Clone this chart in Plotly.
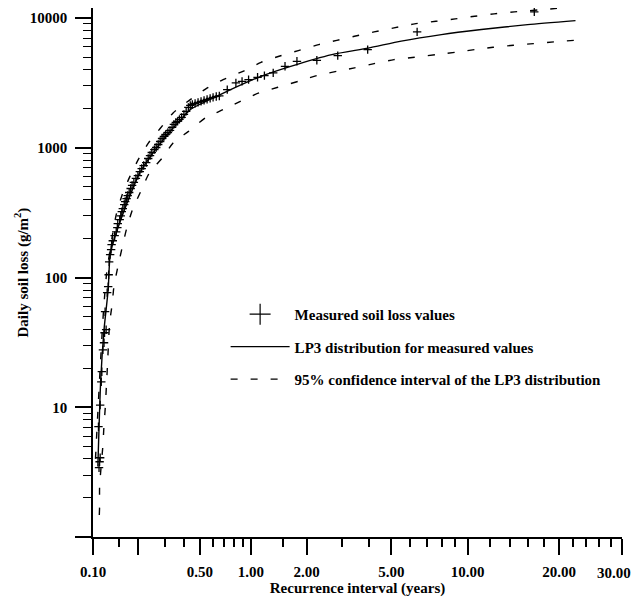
import numpy as np
import plotly.graph_objects as go

# ---------------- data ----------------
# Measured soil loss values: recurrence interval (years), daily soil loss (g/m2)
meas_T = [0.110, 0.111, 0.112, 0.109, 0.112, 0.114, 0.115, 0.117, 0.119, 0.120,
          0.123, 0.121, 0.125, 0.127, 0.128, 0.129, 0.131, 0.133, 0.134, 0.1365,
          0.1405, 0.144, 0.1465, 0.1475, 0.152, 0.1545, 0.157, 0.1595, 0.163, 0.1655,
          0.169, 0.172, 0.176, 0.180, 0.184, 0.189, 0.195, 0.201, 0.207, 0.213,
          0.2195, 0.228, 0.235, 0.2415, 0.248, 0.2575, 0.265, 0.273, 0.281, 0.289,
          0.297, 0.305, 0.315, 0.325, 0.335, 0.344, 0.354, 0.363, 0.373, 0.385,
          0.398, 0.411, 0.424, 0.436, 0.449, 0.467, 0.487, 0.508, 0.530, 0.553,
          0.577, 0.601, 0.628, 0.655, 0.73, 0.82, 0.89, 0.97, 1.09, 1.19,
          1.33, 1.54, 1.78, 2.25, 2.85, 3.93, 6.4, 16.8]
meas_v = [3.42, 3.80, 4.08, 7.08, 10.4, 15.7, 18.8, 27.7, 31.4, 37.5,
          39.6, 54.5, 76.4, 85, 105, 132, 150, 164, 179, 192,
          210, 225, 242, 260, 279, 299, 322, 340, 365, 385,
          406, 428, 452, 485, 512, 540, 580, 610, 655, 691,
          729, 769, 826, 871, 919, 968, 1004, 1059, 1117, 1178,
          1222, 1265, 1311, 1360, 1433, 1513, 1567, 1596, 1654, 1714,
          1807, 1906, 2046, 2120, 2158, 2198, 2235, 2276, 2317, 2358,
          2400, 2443, 2486, 2507, 2805, 3161, 3250, 3350, 3490, 3597,
          3773, 4243, 4636, 4720, 5130, 5705, 7815, 11140]

# LP3 distribution fitted to the measured values
lp3_T = [0.108, 0.113, 0.119, 0.127, 0.1315, 0.152, 0.177, 0.207, 0.262, 0.333,
         0.373, 0.436, 0.663, 1.14, 1.65, 2.67, 3.95, 5.5, 7.98, 11.2, 16.0, 22.35]
lp3_v = [3.5, 16.3, 39.6, 80.5, 155, 264, 420, 643, 968, 1380,
         1598, 1967, 2567, 3553, 4243, 5223, 5861, 6637, 7447, 8142, 8895, 9550]

# 95% confidence interval, upper bound
up_T = [0.104, 0.112, 0.118, 0.124, 0.136, 0.144, 0.158, 0.178, 0.202, 0.236,
        0.28, 0.34, 0.436, 0.555, 0.69, 0.9, 1.14, 1.43, 1.81, 2.3,
        2.82, 3.42, 4.2, 5.13, 6.25, 7.6, 9.0, 10.6, 12.4, 14.5, 19.4, 22.3]
up_v = [4.0, 20, 55, 108, 214, 305, 435, 602, 809, 1089,
        1400, 1854, 2349, 2891, 3350, 3882, 4552, 5070, 5607, 6237,
        6730, 7227, 7815, 8390, 9015, 9435, 9840, 10310, 10760, 11140, 11815, 12310]

# 95% confidence interval, lower bound
lo_T = [0.1105, 0.111, 0.111, 0.117, 0.119, 0.1215, 0.1235, 0.1255, 0.130, 0.135,
        0.139, 0.148, 0.169, 0.185, 0.21, 0.239, 0.29, 0.34, 0.425, 0.54,
        0.69, 0.87, 1.11, 1.41, 1.81, 2.25, 2.82, 3.42, 4.2, 5.13,
        6.25, 7.6, 9.0, 10.6, 12.3, 14.4, 16.7, 19.3, 22.2]
lo_v = [1.48, 1.72, 2.45, 5.14, 7.33, 10.1, 14.5, 20.6, 44.8, 61.7,
        85.4, 122, 237, 333, 461, 639, 834, 1089, 1337, 1698,
        1967, 2279, 2646, 2924, 3250, 3597, 3882, 4124, 4450, 4778,
        4979, 5222, 5440, 5705, 5943, 6160, 6347, 6542, 6730]

# axis ticks
x_major = [0.1, 0.2, 0.5, 1, 2, 5, 10, 20, 30]
x_major_text = ["0.10", " ", "0.50", "1.00", "2.00", "5.00", "10.00", "20.00", " "]
x_last_label = "30.00"   # drawn just inside the page edge
x_minor = [0.15, 0.3, 0.4, 0.6, 0.7, 0.8, 0.9, 1.5, 3, 4, 6, 7, 8, 9,
           12, 14, 16, 18, 22, 24, 26, 28]
y_major = [1, 10, 100, 1000, 10000]
y_major_text = [" ", "10", "100", "1000", "10000"]
y_minor = [m * d for d in (1, 10, 100, 1000) for m in range(2, 10)]

# ---------------- recurrence-interval probability scale ----------------
R = 0.70


def scale(T):
    T = np.asarray(T, dtype=float)
    return np.log(T) + R * np.sqrt(T)


FONT = "Liberation Serif, Times New Roman, serif"
DASH = "7px,13px"

fig = go.Figure()

fig.add_trace(go.Scatter(
    x=scale(meas_T), y=meas_v, mode="markers", name="Measured soil loss values",
    marker=dict(symbol="cross-thin", size=6, line=dict(width=1.3, color="black"), color="black"),
    legendgroup="a", showlegend=False))
# legend entry for the measured values (larger symbol, no data)
fig.add_trace(go.Scatter(
    x=[None], y=[None], mode="markers", name="Measured soil loss values",
    marker=dict(symbol="cross-thin", size=15, line=dict(width=1.2, color="black"), color="black"),
    legendgroup="a", showlegend=True))
fig.add_trace(go.Scatter(
    x=scale(lp3_T), y=lp3_v, mode="lines", name="LP3 distribution for measured values",
    line=dict(color="black", width=1.4, shape="spline", smoothing=0.6),
    legendgroup="b"))
fig.add_trace(go.Scatter(
    x=scale(up_T), y=up_v, mode="lines",
    name="95% confidence interval of the LP3 distribution",
    line=dict(color="black", width=1.4, dash=DASH, shape="spline", smoothing=0.6),
    legendgroup="c"))
fig.add_trace(go.Scatter(
    x=scale(lo_T), y=lo_v, mode="lines", name="lower",
    line=dict(color="black", width=1.4, dash=DASH, shape="spline", smoothing=0.6),
    legendgroup="c", showlegend=False))

# The page body adds an 8 px offset, so the figure is 8 px smaller on each side.
fig.update_layout(
    width=633, height=595,
    margin=dict(l=85, r=19, t=0, b=66, pad=0, autoexpand=False),
    paper_bgcolor="white", plot_bgcolor="white",
    font=dict(family=FONT, size=15, color="black", weight="bold"),
    showlegend=True,
    legend=dict(
        x=0.2507, y=0.452, xanchor="left", yanchor="top",
        bgcolor="rgba(0,0,0,0)", borderwidth=0,
        font=dict(family=FONT, size=15, color="black", weight="bold"),
        itemwidth=59, tracegroupgap=10, traceorder="grouped",
    ),
    annotations=[
        dict(text="Daily soil loss (g/m<sup>2</sup>)", textangle=-90,
             xref="paper", yref="paper", x=-0.1342, y=0.5,
             xanchor="center", yanchor="middle", showarrow=False,
             font=dict(family=FONT, size=15, weight="bold")),
        dict(text=x_last_label, xref="paper", yref="paper",
             x=1.0, xshift=-8, y=-0.068, xanchor="center", yanchor="middle",
             showarrow=False, font=dict(family=FONT, size=15, weight="bold")),
    ],
)

fig.update_xaxes(
    type="linear", range=[float(scale(0.1)), float(scale(30))], automargin=False,
    showgrid=False, zeroline=False,
    showline=True, linecolor="black", linewidth=1.5,
    tickmode="array", tickvals=scale(x_major).tolist(), ticktext=x_major_text,
    ticks="outside", ticklen=16, tickwidth=1.5, tickcolor="black",
    ticklabeloverflow="allow", ticklabelstandoff=4,
    tickfont=dict(family=FONT, size=15, weight="bold"),
    minor=dict(tickmode="array", tickvals=scale(x_minor).tolist(), ticks="outside",
               ticklen=8, tickwidth=1.5, tickcolor="black", showgrid=False),
    title=dict(text="Recurrence interval (years)", standoff=4,
               font=dict(family=FONT, size=15, weight="bold")),
)

fig.update_yaxes(
    type="log", range=[0, 4.077], automargin=False,
    showgrid=False, zeroline=False,
    showline=True, linecolor="black", linewidth=1.5,
    tickmode="array", tickvals=y_major, ticktext=y_major_text,
    ticks="outside", ticklen=16, tickwidth=1.5, tickcolor="black",
    ticklabeloverflow="allow", ticklabelstandoff=5,
    tickfont=dict(family=FONT, size=15, weight="bold"),
    minor=dict(tickmode="array", tickvals=y_minor, ticks="outside",
               ticklen=8, tickwidth=1.2, tickcolor="black", showgrid=False),
)

fig.write_html("out.html")
